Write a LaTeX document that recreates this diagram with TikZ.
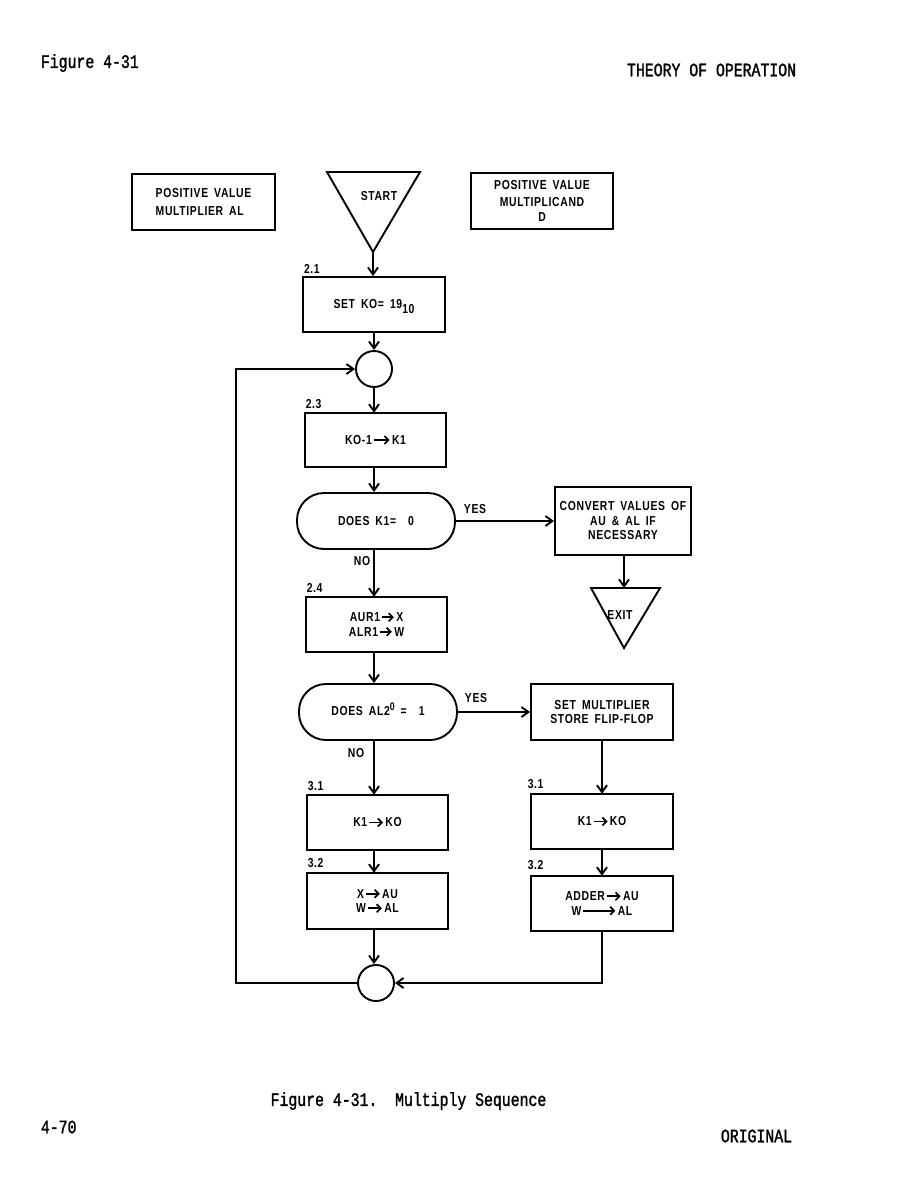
\documentclass[tikz,border=0pt]{standalone}
\usepackage{fontspec}
\usetikzlibrary{arrows.meta}
\newfontfamily\lbl{Liberation Sans}[FakeStretch=0.8,LetterSpace=5,WordSpace=1.7]
\newfontfamily\tw{Liberation Mono}[FakeStretch=0.78,FakeBold=1.5]
\newcommand\rarr[1][16]{\kern1pt\tikz[baseline=-0.65ex,x=1pt,y=1pt]\draw[line width=1.7pt,-{Straight Barb[length=4pt,width=8pt,line width=1.7pt]}](0,0)--(#1,0);\kern1.5pt}
\begin{document}
\begin{tikzpicture}[x=1pt,y=-1pt,line width=1.9pt,
  proc/.style={draw,rectangle,inner sep=0pt,align=center,font=\lbl\bfseries\fontsize{13}{14.5}\selectfont},
  stadium/.style={proc,rounded corners=27pt,minimum width=158pt,minimum height=56pt},
  conn/.style={draw,circle,minimum size=36pt,inner sep=0pt},
  txt/.style={inner sep=0pt,font=\lbl\bfseries\fontsize{13}{14.5}\selectfont},
  num/.style={txt,anchor=south west},
  head/.style={inner sep=0pt,font=\tw\fontsize{19}{22}\selectfont},
  arr/.style={-{Straight Barb[length=7pt,width=10pt]}}]
\fill[white] (0,0) rectangle (923,1191);
\useasboundingbox (0,0) rectangle (923,1191);
% header / footer
\node[head,anchor=west] (fig) at (40,63) {Figure 4-31};
\node[head,anchor=east] (theory) at (797,70) {THEORY OF OPERATION};
\node[head] (cap) at (408.5,1101) {Figure 4-31.\ \ Multiply Sequence};
\node[head,anchor=west] (pg) at (40,1127) {4-70};
\node[head,anchor=east] (orig) at (793,1136) {ORIGINAL};
% top row
\node[proc,minimum width=143pt,minimum height=56pt,align=left] (pva) at (203.5,202) {POSITIVE VALUE\\[3pt]MULTIPLIER AL};
\node[proc,minimum width=142pt,minimum height=56pt] (pvd) at (542,201) {POSITIVE VALUE\\[2pt]MULTIPLICAND\\[1pt]D};
\coordinate (stTL) at (327,172);
\coordinate (stTR) at (420,172);
\coordinate (stA) at (373,252);
\draw (stTL) -- (stTR) -- (stA) -- cycle;
\node[txt] (start) at (379,196) {START};
% main column
\node[proc,minimum width=142pt,minimum height=55pt] (b21) at (374,304.5) {\raisebox{-3pt}{SET KO= 19\smash{\raisebox{-5pt}{10}}}};
\node[num] (l21) at ([shift={(1,-2)}]b21.north west) {2.1};
\node[conn] (c1) at (374,369) {};
\node[proc,minimum width=141pt,minimum height=54pt] (b23) at (375.5,440) {KO-1\rarr K1};
\node[num] (l23) at ([shift={(0,-3)}]b23.north west) {2.3};
\node[stadium] (d1) at (376,521) {DOES K1=\ \ 0};
\node[proc,minimum width=136pt,minimum height=68pt] (conv) at (623,521) {CONVERT VALUES OF\\AU \& AL IF\\NECESSARY};
\coordinate (exL) at (591,588);
\coordinate (exR) at (660,588);
\coordinate (exA) at (624,648);
\draw (exL) -- (exR) -- (exA) -- cycle;
\node[txt] (exit) at (620,615) {EXIT};
\node[proc,minimum width=141pt,minimum height=55pt] (b24) at (376.5,624.5) {AUR1\rarr[12]X\\ALR1\rarr[12]W};
\node[num] (l24) at ([shift={(0,-3)}]b24.north west) {2.4};
\node[stadium] (d2) at (378,712) {\raisebox{2pt}{DOES AL2\smash{\raisebox{5pt}{\fontsize{11}{12}\selectfont 0}}\ =\ \ 1}};
\node[proc,minimum width=142pt,minimum height=56pt] (sm) at (602,712) {SET MULTIPLIER\\STORE FLIP-FLOP};
\node[proc,minimum width=141pt,minimum height=55pt] (b31L) at (377.5,822.5) {K1\rarr[14]KO};
\node[num] (l31L) at ([shift={(0,-3)}]b31L.north west) {3.1};
\node[proc,minimum width=141pt,minimum height=56pt] (b32L) at (377.5,901) {X\rarr[14]AU\\W\rarr[14]AL};
\node[num] (l32L) at ([shift={(0,-4)}]b32L.north west) {3.2};
\node[proc,minimum width=142pt,minimum height=55pt] (b31R) at (602,821.5) {K1\rarr[14]KO};
\node[num] (l31R) at ([shift={(-4,-4)}]b31R.north west) {3.1};
\node[proc,minimum width=142pt,minimum height=55pt] (b32R) at (602,903.5) {ADDER\rarr[14]AU\\W\rarr[32]AL};
\node[num] (l32R) at ([shift={(-4,-5)}]b32R.north west) {3.2};
\node[conn] (c2) at (376,983) {};
\coordinate (loopx) at (236,700);
% labels
\node[txt] (yes1) at (475,509) {YES};
\node[txt] (no1) at (362,561) {NO};
\node[txt] (yes2) at (476,698) {YES};
\node[txt] (no2) at (356,753) {NO};
% connectors
\draw[arr] (stA) -- (stA |- b21.north);
\draw[arr] (b21.south -| c1) -- (c1.north);
\draw[arr] (c1.south) -- (c1.south |- b23.north);
\draw[arr] (b23.south -| c1) -- (d1.north -| c1);
\draw[arr] (d1.east) -- (d1.east -| conv.west);
\draw[arr] (conv.south -| exA) -- (exA |- exL);
\draw[arr] (d1.south -| c1) -- (b24.north -| c1);
\draw[arr] (b24.south -| c1) -- (d2.north -| c1);
\draw[arr] (d2.east) -- (sm.west);
\draw[arr] (d2.south -| c1) -- (b31L.north -| c1);
\draw[arr] (b31L.south -| c1) -- (b32L.north -| c1);
\draw[arr] (b32L.south -| c1) -- (c2.north -| c1);
\draw[arr] (sm.south) -- (sm.south |- b31R.north);
\draw[arr] (b31R.south -| sm) -- (b32R.north -| sm);
\draw[arr] (b32R.south -| sm) |- (c2.east);
\draw[arr] (c2.west) -| (loopx) |- (c1.west);
\end{tikzpicture}
\end{document}
